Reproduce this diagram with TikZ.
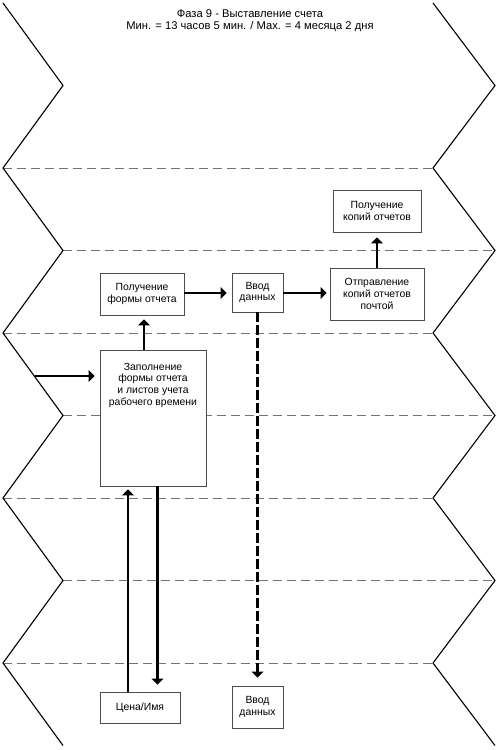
\documentclass[tikz,border=0pt]{standalone}
\usepackage{fontspec}
\setmainfont{Liberation Sans}
\usetikzlibrary{arrows.meta}

\tikzset{
  box/.style={draw=black!70,line width=0.9pt,fill=white,align=center,inner sep=2pt},
  arr/.style={line width=2.4pt,-{Triangle[length=6pt,width=12pt]}},
  lane/.style={black!55,line width=1pt,dash pattern=on 9pt off 5pt},
  zig/.style={black,line width=1.1pt}
}

\begin{document}
\begin{tikzpicture}[x=1pt,y=-1pt,font=\fontsize{10.4}{11.6}\selectfont]
        \useasboundingbox (0,0) rectangle (500,750);
        % dashed lane lines
        \foreach \y in {168,333,498,663} \draw[lane] (3,\y) -- (433,\y) ;
        \foreach \y in {250.5,415.5,580.5} \draw[lane] (63,\y) -- (495,\y) ;
        % left and right zigzag edges
        \draw[zig] (3,3) -- (63,85.5) -- (3,168) -- (63,250.5) -- (3,333) -- (63,415.5)
          -- (3,498) -- (63,580.5) -- (3,663) -- (63,745.5) ;
        \draw[zig] (433,3) -- (495,85.5) -- (433,168) -- (495,250.5) -- (433,333) -- (495,415.5)
          -- (433,498) -- (495,580.5) -- (433,663) -- (495,745.5) ;
        % title
        \node[align=center,font=\fontsize{11.2}{11.5}\selectfont] (title) at (250,20.5)
          {Фаза 9 - Выставление счета\\Мин. = 13 часов 5 мин. / Max. = 4 месяца 2 дня} ;
        % boxes
        \node[box,minimum width=84,minimum height=42] (polForm) at (142,294)
          {Получение\\формы отчета} ;
        \node[box,minimum width=51,minimum height=39] (vvodTop) at (257.5,292.5)
          {Ввод\\данных} ;
        \node[box,minimum width=94,minimum height=52] (otprav) at (377,294)
          {Отправление\\копий отчетов\\почтой} ;
        \node[box,minimum width=88,minimum height=42] (polKop) at (377,211)
          {Получение\\копий отчетов} ;
        \node[box,minimum width=106,minimum height=136] (zapoln) at (153,418) {} ;
        \node[align=center,anchor=north] (zapolnText) at ([yshift=-10]zapoln.north)
          {Заполнение\\формы отчета\\и листов учета\\рабочего времени} ;
        \node[box,minimum width=80,minimum height=31] (cena) at (140,707.5) {Цена/Имя} ;
        \node[box,minimum width=51,minimum height=42] (vvodBot) at (257.5,707)
          {Ввод\\данных} ;
        % connectors
        \coordinate (entry) at (34.5,376) ;
        \coordinate (row) at (0,293) ;
        \draw[arr,shorten >=5pt] (entry) -- (entry -| zapoln.west) ;
        \draw[arr,shorten >=4pt] ([xshift=-9]zapoln.north) -- ([xshift=2]polForm.south) ;
        \draw[arr,shorten >=5pt] (row -| polForm.east) -- (row -| vvodTop.west) ;
        \draw[arr,shorten >=3pt] (row -| vvodTop.east) -- (row -| otprav.west) ;
        \draw[arr,shorten >=5pt] (otprav.north) -- (polKop.south) ;
        \draw[arr,dash pattern=on 10pt off 3pt,shorten >=8pt] (vvodTop.south) -- (vvodBot.north) ;
        \draw[arr,shorten >=3pt] ([xshift=-12]cena.north) -- ([xshift=-12]cena.north |- zapoln.south) ;
        \draw[arr,shorten >=7pt] ([xshift=4.5]zapoln.south) -- ([xshift=4.5]zapoln.south |- cena.north) ;
\end{tikzpicture}
\end{document}
